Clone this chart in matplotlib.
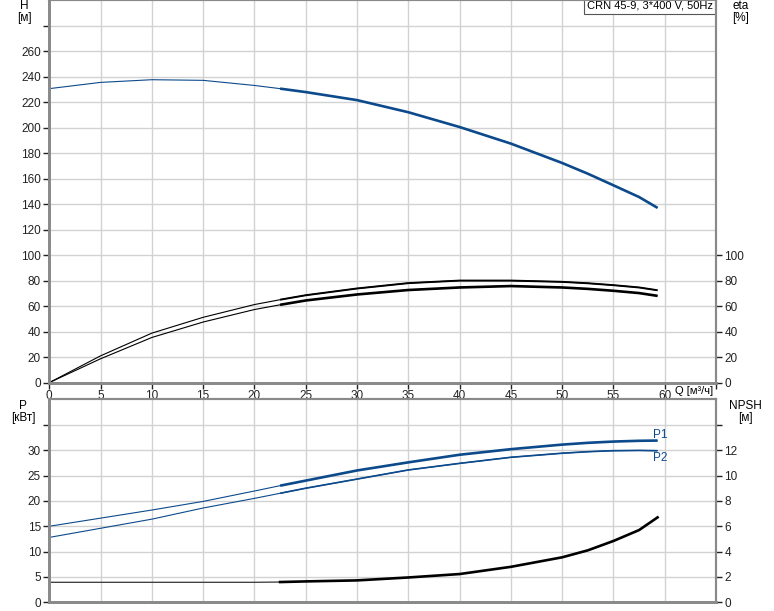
import numpy as np
import matplotlib
matplotlib.use('Agg')
import matplotlib.pyplot as plt

plt.rcParams['font.family'] = ['Liberation Sans', 'DejaVu Sans']
plt.rcParams['font.size'] = 8.5

# flow points, m3/h
q = [0, 5, 10, 15, 20, 22.5, 25, 30, 35, 40, 45, 50, 52.5, 55, 57.5, 59.3]
# head, m
head = [230.5, 235.4, 237.5, 237.0, 233.0, 230.5, 227.8, 221.5, 212.0, 200.4,
        187.4, 172.2, 163.8, 154.7, 145.5, 137.0]
# efficiencies, %
eta_pump = [0, 21.0, 38.8, 51.2, 61.2, 65.0, 68.5, 73.8, 78.0, 80.0, 80.0,
            79.0, 77.9, 76.4, 74.6, 72.4]
eta_total = [0, 18.7, 35.4, 47.5, 57.3, 61.0, 64.4, 69.1, 72.6, 74.6, 75.7,
             74.6, 73.5, 72.0, 70.2, 68.0]
# power, kW
p1 = [15.0, 16.6, 18.2, 19.9, 21.95, 23.0, 24.0, 26.0, 27.6, 29.1, 30.2,
      31.1, 31.45, 31.7, 31.85, 31.9]
p2 = [12.8, 14.6, 16.4, 18.6, 20.5, 21.5, 22.5, 24.3, 26.1, 27.4, 28.6,
      29.4, 29.7, 29.9, 29.95, 29.9]
# NPSH, m
npsh = [1.58, 1.58, 1.58, 1.58, 1.58, 1.6, 1.65, 1.73, 1.96, 2.23, 2.8,
        3.55, 4.1, 4.84, 5.7, 6.7]

q_duty_start = 22.5
title = 'CRN 45-9, 3*400 V, 50Hz'

blue = '#0d4a8c'
grid_c = '#d2d2d2'
spine_c = '#8a8a8a'

q = np.array(q)
thick = q >= q_duty_start


def draw(ax, y, color, lw_thin=0.8, lw_thick=1.9):
    y = np.array(y)
    ax.plot(q, y, color=color, lw=lw_thin, solid_capstyle='butt')
    ax.plot(q[thick], y[thick], color=color, lw=lw_thick, solid_capstyle='butt')


def style(ax):
    ax.grid(True, color=grid_c, lw=1.0)
    ax.set_axisbelow(True)
    for s in ['left', 'bottom']:
        ax.spines[s].set_color(spine_c)
        ax.spines[s].set_linewidth(2)
    for s in ['top', 'right']:
        ax.spines[s].set_color(spine_c)
        ax.spines[s].set_linewidth(1.5)
    ax.tick_params(length=4, width=1, colors='#222222', pad=2)


fig = plt.figure(figsize=(7.74, 6.11), dpi=100)
ax1 = fig.add_axes([0.0637, 0.3738, 0.8614, 0.6262])
ax2 = fig.add_axes([0.0637, 0.0142, 0.8614, 0.3320])

# upper chart: H and eta
ax1.set_xlim(0, 65)
ax1.set_ylim(0, 300)
ax1.set_xticks(np.arange(0, 66, 5))
ax1.set_xticklabels([str(v) if v <= 60 else '' for v in range(0, 66, 5)])
ax1.set_yticks(np.arange(0, 300, 20))
ax1.set_yticklabels([str(v) if v <= 260 else '' for v in range(0, 300, 20)])
style(ax1)
ax1.tick_params(axis='x', pad=1)
draw(ax1, head, blue)
draw(ax1, eta_pump, 'black', lw_thick=1.4)
draw(ax1, eta_total, 'black')

ax1r = ax1.twinx()
ax1r.set_ylim(0, 300)
ax1r.set_yticks(np.arange(0, 101, 20))
style(ax1r)
ax1r.grid(False)

ax1.text(0.995, 0.998, title, transform=ax1.transAxes, ha='right', va='top',
         fontsize=8, bbox=dict(boxstyle='square,pad=0.25', fc='white',
                               ec='#555555', lw=0.8))
fig.text(713 / 774, 1 - 391 / 611, 'Q [м³/ч]', ha='right', va='center', fontsize=8)

# lower chart: P and NPSH
ax2.set_xlim(0, 65)
ax2.set_ylim(0, 40)
ax2.set_xticks(np.arange(0, 66, 5))
ax2.set_xticklabels([])
ax2.set_yticks(np.arange(0, 40, 5))
ax2.set_yticklabels([str(v) if v <= 30 else '' for v in range(0, 40, 5)])
style(ax2)
ax2.tick_params(axis='x', length=0)
draw(ax2, p1, blue)
draw(ax2, p2, blue, lw_thick=1.2)
ax2.text(q[-1] - 0.4, 32.4, 'P1', color=blue, ha='left', va='baseline', fontsize=8.5)
ax2.text(q[-1] - 0.4, 29.7, 'P2', color=blue, ha='left', va='top', fontsize=8.5)

ax2r = ax2.twinx()
ax2r.set_ylim(0, 16)
ax2r.set_yticks(np.arange(0, 16, 2))
ax2r.set_yticklabels([str(v) if v <= 12 else '' for v in range(0, 16, 2)])
style(ax2r)
ax2r.grid(False)
npsh_a = np.array(npsh)
low = q <= q_duty_start
ax2r.plot(q[low], npsh_a[low], color='#333333', lw=0.9)
ax2r.plot(q[thick], npsh_a[thick], color='black', lw=1.9)

# axis titles
fig.text(24 / 774, 1 - 9 / 611, 'H', ha='center', va='baseline')
fig.text(24 / 774, 1 - 21 / 611, '[м]', ha='center', va='baseline')
fig.text(741 / 774, 1 - 9 / 611, 'eta', ha='center', va='baseline')
fig.text(741 / 774, 1 - 21 / 611, '[%]', ha='center', va='baseline')
fig.text(23 / 774, 1 - 409 / 611, 'P', ha='center', va='baseline')
fig.text(23 / 774, 1 - 421 / 611, '[кВт]', ha='center', va='baseline')
fig.text(745 / 774, 1 - 409 / 611, 'NPSH', ha='center', va='baseline')
fig.text(745 / 774, 1 - 421 / 611, '[м]', ha='center', va='baseline')

fig.savefig('out.png', dpi=100)
